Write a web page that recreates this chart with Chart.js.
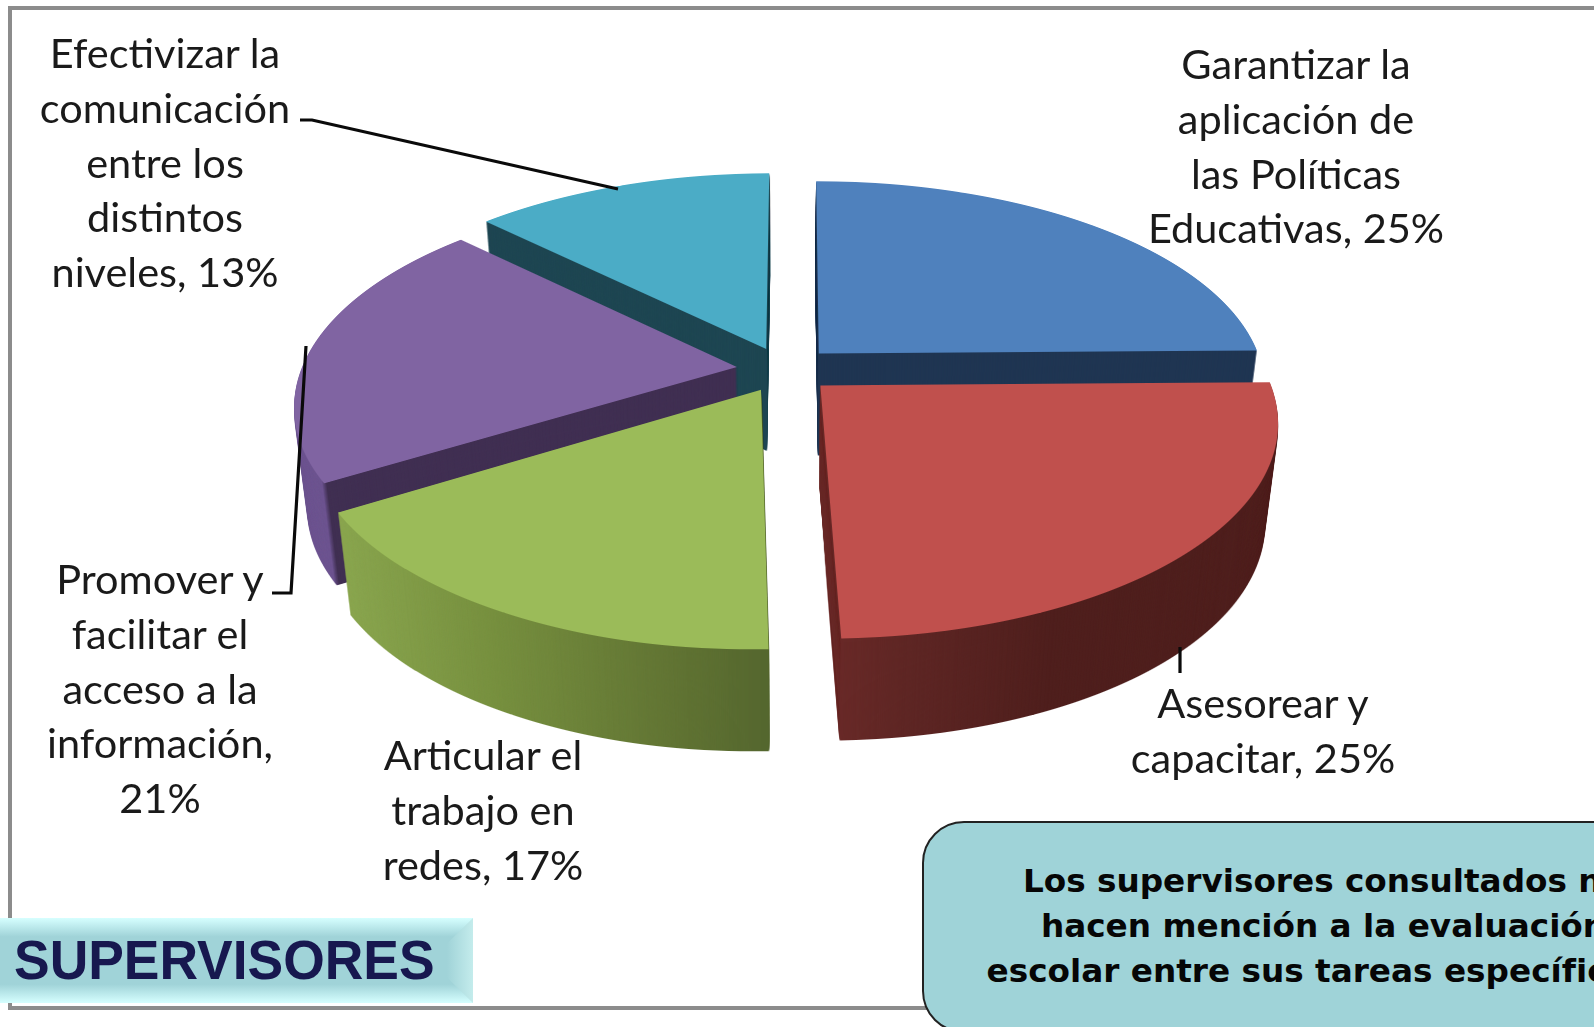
<!DOCTYPE html>
<html lang="es"><head><meta charset="utf-8">
<script src="https://cdn.jsdelivr.net/npm/chart.js@4"></script>
<style>
html,body{margin:0;padding:0;width:1594px;height:1027px;overflow:hidden;background:#fff}
#frame{position:absolute;left:8px;top:6px;width:1700px;height:996px;border:4px solid #8c8c8c;box-sizing:content-box}
canvas{position:absolute;left:0;top:0;filter:blur(.5px)}
.lab{position:absolute;font-family:Lato,sans-serif;font-size:41.5px;line-height:54.8px;color:#1a1a1a;text-align:center;white-space:pre;transform:translateX(-50%)}
#banner{position:absolute;left:0;top:918px;width:473px;height:85px;background:linear-gradient(180deg,#d6ffff 0,#a0d3d8 22%,#a0d3d8 78%,#d6ffff 100%)}
#bev{position:absolute;left:447px;top:918px;width:26px;height:85px;background:linear-gradient(90deg,#a0d3d8,#c4ecec);clip-path:polygon(100% 0,100% 100%,0 70%,0 30%)}
#sup{position:absolute;left:14px;top:927px;font:bold 56px/66px "Liberation Sans",sans-serif;color:#17184f;white-space:pre;transform:scaleX(.954);transform-origin:0 0}
#note{position:absolute;left:922px;top:821px;width:803px;height:212px;box-sizing:border-box;background:#9fd3d8;border:2px solid #222;border-radius:42px;text-align:center;padding-top:36px;font:bold 32.7px/45px "DejaVu Sans",sans-serif;color:#060606;white-space:pre}
</style></head><body>
<div id="frame"></div>
<canvas id="c" width="1594" height="1027"></canvas>
<div id="labels"></div>
<div id="banner"></div><div id="bev"></div><div id="sup">SUPERVISORES</div>
<div id="note">Los supervisores consultados no
hacen mención a la evaluación
escolar entre sus tareas específicas.</div>
<script>
const categories=['Garantizar la\naplicación de\nlas Políticas\nEducativas','Asesorear y\ncapacitar','Articular el\ntrabajo en\nredes','Promover y\nfacilitar el\nacceso a la\ninformación','Efectivizar la\ncomunicación\nentre los\ndistintos\nniveles'];
const values=[25,25,17,21,13];
const valueBreaks=[' ',' ',' ','\n',' '];
const topColors=['#4f81bd','#c0504d','#9bbb59','#8064a2','#4bacc6'];
const wallStops=[
 [[0,'#1f3552'],[1,'#1f3552']],
 [[0,'#6a2a28'],[.18,'#5e2624'],[.5,'#4f1f1d'],[1,'#4f1f1d']],
 [[0,'#8aa64f'],[.35,'#77903f'],[.75,'#627534'],[1,'#54662e']],
 [[0,'#6d5490'],[.075,'#6d5490'],[.085,'#402f52'],[1,'#402f52']],
 [[0,'#1e4652'],[1,'#1e4652']]
];
const paintOrder=[0,4,3,2,1];
const labelPos=[[1296,36],[1263,675],[483,727],[160,551],[165,25]];
const leaders=[[[300,120],[312,120],[618,189]],[[306,346],[291,593],[272,593]],[[1180,647],[1180,673]]];
// view of the tilted plate: the left half is drawn a little narrower than the right
const view={tx:784.5,ty:369.5,rxL:434,rxR:445,ry:205.6,k:.165,vx:800,depth:102,taper:.027};

categories.forEach((c,i)=>{const d=document.createElement('div');d.className='lab';
 d.textContent=c+','+valueBreaks[i]+values[i]+'%';d.style.left=labelPos[i][0]+'px';d.style.top=labelPos[i][1]+'px';document.getElementById('labels').appendChild(d)});

const tilt={id:'tilt',
 beforeDatasetsDraw(chart){
  const ctx=chart.ctx,W=chart.width,H=chart.height,arcs=chart.getDatasetMeta(0).data,v=view;
  paintOrder.forEach(idx=>{
   const arc=arcs[idx],R=arc.outerRadius;
   const top=document.createElement('canvas');top.width=W;top.height=H;const t=top.getContext('2d');
   for(let y=0;y<H;y++){
    const a=(y+.5-v.ty)/v.ry,den=1+v.k*a;if(den<=.2)continue;
    const n=a/den;if(Math.abs(n)>1.5)continue;
    const w=1-v.k*n,D=v.ry/(R*w*w),Ex=v.vx+(v.tx-v.vx)/w,split=Math.round(Ex);
    [[0,split,v.rxL],[split,W-split,v.rxR]].forEach(p=>{
     const sx=p[2]/R/w;
     t.save();t.beginPath();t.rect(p[0],y,p[1],1);t.clip();
     t.setTransform(sx,0,0,D,Ex-sx*arc.x,(y+.5)-D*(arc.y+n*R));
     arc.draw(t);t.restore();
    });
   }
   const wall=document.createElement('canvas');wall.width=W;wall.height=H;const g=wall.getContext('2d');
   g.drawImage(top,0,0);g.globalCompositeOperation='source-in';
   const ext={0:[816,1260],1:[830,1275],2:[335,775],3:[288,740],4:[480,780]}[idx];
   const lg=g.createLinearGradient(ext[0],0,ext[1],0);wallStops[idx].forEach(s=>lg.addColorStop(s[0],s[1]));
   g.fillStyle=lg;g.fillRect(0,0,W,H);
   for(let d=v.depth;d>=1;d--){
    const s=1-v.taper*d/100;
    ctx.setTransform(s,0,0,1,v.tx*(1-s),d);ctx.drawImage(wall,0,0);
   }
   ctx.setTransform(1,0,0,1,0,0);ctx.drawImage(top,0,0);
  });
  return false;
 },
 afterDraw(chart){
  const ctx=chart.ctx;ctx.save();ctx.strokeStyle='#0a0a0a';ctx.lineWidth=3.2;
  leaders.forEach(l=>{ctx.beginPath();l.forEach((p,i)=>i?ctx.lineTo(p[0],p[1]):ctx.moveTo(p[0],p[1]));ctx.stroke()});
  ctx.restore();
 }};

new Chart(document.getElementById('c'),{type:'pie',
 data:{labels:categories.map(c=>c.replace(/\n/g,' ')),datasets:[{data:values,backgroundColor:topColors,borderWidth:0,offset:186}]},
 options:{responsive:false,animation:false,events:[],layout:{padding:0},
  plugins:{legend:{display:false},tooltip:{enabled:false}}},
 plugins:[tilt]});
</script></body></html>
